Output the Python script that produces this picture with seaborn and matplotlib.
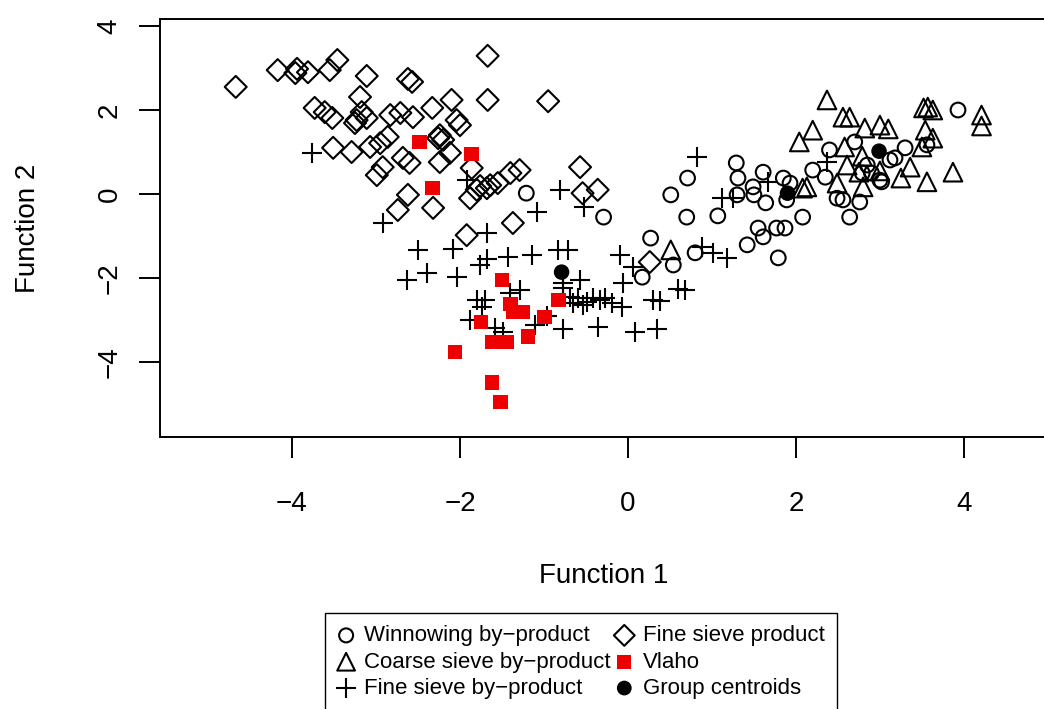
import pandas as pd
import matplotlib
matplotlib.use("Agg")
import matplotlib.pyplot as plt
import seaborn as sns

# discriminant scores (Function 1, Function 2)
winnow_x = [-1.21, -0.29, 0.51, 0.71, 0.70, 1.07, 1.29, 1.31, 1.30, 0.27, 0.54, 0.80,
            0.17, 1.42, 1.49, 1.50, 1.61, 1.64, 1.85, 1.93, 1.89, 1.55, 1.61, 1.77,
            1.87, 1.79, 2.08, 2.20, 2.35, 2.40, 2.49, 2.56, 2.76, 2.64, 2.70, 2.79,
            3.00, 3.12, 3.30, 3.93, 3.18, 2.85, 3.56, 2.90, 3.02]
winnow_y = [0.02, -0.55, -0.02, 0.38, -0.55, -0.52, 0.74, 0.38, -0.02, -1.05, -1.69, -1.40,
            -1.98, -1.21, 0.17, -0.02, 0.52, -0.21, 0.38, 0.26, -0.14, -0.81, -1.02, -0.81,
            -0.81, -1.52, -0.55, 0.57, 0.40, 1.05, -0.10, -0.14, -0.19, -0.55, 1.24, 0.50,
            0.33, 0.81, 1.10, 2.00, 0.86, 0.69, 1.17, 0.50, 0.29]

coarse_x = [2.37, 2.56, 2.64, 2.82, 3.00, 3.10, 2.20, 2.04, 2.08, 2.49, 2.58, 2.79,
            2.61, 2.75, 2.80, 3.00, 3.36, 3.25, 3.56, 3.87, 3.52, 3.57, 3.63, 3.54,
            3.63, 3.50, 4.21, 4.21, 0.51, 2.13]
coarse_y = [2.24, 1.83, 1.83, 1.57, 1.64, 1.55, 1.52, 1.24, 0.14, 0.26, 1.12, 0.90,
            0.69, 0.52, 0.17, 0.55, 0.64, 0.38, 0.29, 0.52, 2.05, 2.07, 2.00, 1.52,
            1.33, 1.12, 1.88, 1.62, -1.33, 0.17]

fine_bp_x = [-3.76, -2.92, -2.50, -2.08, -2.63, -2.39, -2.04, -1.76, -1.68, -1.43, -1.14, -0.83,
             -0.71, -0.10, 0.06, -1.80, -1.70, -1.74, -1.88, -1.58, -1.49, -1.29, -1.40, -1.11,
             -0.96, -0.77, -0.36, 0.08, 0.35, -0.07, 0.30, 0.38, 0.60, -1.08, -0.52, -1.68,
             -1.92, -0.81, 0.82, 1.25, 0.68, 1.18, -0.06, 1.67, 2.37, 1.12, 0.88, 1.01,
             -0.77, -0.69, -0.60, -0.49, -0.42, -0.33, -0.27, -0.19, -0.65, -0.54, -0.77, -0.57]
fine_bp_y = [0.98, -0.69, -1.33, -1.31, -2.05, -1.88, -1.98, -1.69, -1.55, -1.50, -1.45, -1.33,
             -1.33, -1.45, -1.74, -2.52, -2.52, -2.69, -3.00, -3.19, -3.29, -2.29, -2.36, -3.12,
             -2.90, -3.21, -3.17, -3.29, -3.21, -2.69, -2.52, -2.55, -2.26, -0.43, -0.31, -0.93,
             0.33, 0.10, 0.88, -0.10, -2.29, -1.52, -2.12, 0.29, 0.76, -0.10, -1.26, -1.40,
             -2.24, -2.45, -2.48, -2.57, -2.48, -2.52, -2.48, -2.60, -2.60, -2.64, -2.12, -2.05]

fine_p_x = [-4.67, -4.17, -3.96, -3.94, -3.81, -3.55, -3.46, -3.11, -2.62, -2.57, -3.73, -3.61,
            -3.52, -3.19, -3.23, -3.17, -3.11, -3.25, -2.83, -2.71, -2.56, -2.33, -2.10, -3.51,
            -3.29, -3.07, -2.95, -2.86, -2.99, -2.92, -2.68, -2.60, -2.26, -2.20, -2.24, -2.12,
            -2.62, -2.74, -2.32, -2.04, -1.67, -1.67, -2.00, -1.86, -1.88, -1.76, -1.64, -1.92,
            -1.80, -1.68, -1.55, -1.40, -1.29, -1.37, -0.57, -0.54, -0.36, 0.26, -0.95, -2.24]
fine_p_y = [2.55, 2.95, 2.88, 2.98, 2.90, 2.95, 3.19, 2.81, 2.74, 2.67, 2.05, 1.95,
            1.81, 2.31, 1.76, 1.95, 1.81, 1.69, 1.88, 1.93, 1.83, 2.05, 2.24, 1.10,
            1.00, 1.12, 1.21, 1.36, 0.45, 0.64, 0.86, 0.74, 1.33, 1.29, 0.76, 0.98,
            -0.02, -0.38, -0.33, 1.76, 3.29, 2.24, 1.64, 0.62, -0.10, 0.19, 0.21, -0.98,
            0.10, 0.14, 0.26, 0.50, 0.57, -0.69, 0.64, 0.02, 0.10, -1.62, 2.21, 1.40]

vlaho_x = [-2.48, -1.86, -2.33, -1.50, -0.83, -1.40, -1.36, -1.25, -1.75, -0.99, -1.19, -1.61,
           -1.44, -2.06, -1.62, -1.52]
vlaho_y = [1.24, 0.95, 0.14, -2.05, -2.52, -2.62, -2.81, -2.81, -3.05, -2.93, -3.40, -3.52,
           -3.52, -3.76, -4.48, -4.95]

centroid_x = [-0.79, 1.90, 2.99]
centroid_y = [-1.86, 0.02, 1.02]

groups = [
    ("Winnowing by−product", winnow_x, winnow_y),
    ("Coarse sieve by−product", coarse_x, coarse_y),
    ("Fine sieve by−product", fine_bp_x, fine_bp_y),
    ("Fine sieve product", fine_p_x, fine_p_y),
    ("Vlaho", vlaho_x, vlaho_y),
    ("Group centroids", centroid_x, centroid_y),
]

df = pd.concat(
    [pd.DataFrame({"f1": xs, "f2": ys, "group": name}) for name, xs, ys in groups],
    ignore_index=True,
)

styles = {
    "Winnowing by−product": dict(marker="o", s=112, facecolors="none", edgecolor="black", linewidth=1.5),
    "Coarse sieve by−product": dict(marker="^", s=180, facecolors="none", edgecolor="black", linewidth=1.5),
    "Fine sieve by−product": dict(marker="+", s=210, color="black", linewidth=1.5),
    "Fine sieve product": dict(marker="D", s=125, facecolors="none", edgecolor="black", linewidth=1.5),
    "Vlaho": dict(marker="s", s=112, color="#ee0000", edgecolor="none", linewidth=0),
    "Group centroids": dict(marker="o", s=125, color="black", edgecolor="none", linewidth=0),
}

sns.set_theme(style="ticks")
plt.rcParams["font.family"] = ["Liberation Sans", "DejaVu Sans"]
plt.rcParams["text.color"] = "black"
plt.rcParams["axes.labelcolor"] = "black"
plt.rcParams["xtick.color"] = "black"
plt.rcParams["ytick.color"] = "black"

fig = plt.figure(figsize=(10.44, 7.09), dpi=100)
# right edge of the box sits just past the picture, as in the cropped original
ax = fig.add_axes([0.1533, 0.3836, 0.8496, 0.5896])

for name, _, _ in groups:
    sns.scatterplot(data=df[df["group"] == name], x="f1", y="f2", ax=ax,
                    label=name, **styles[name])

ax.set_xlim(-5.571, 4.99)
ax.set_ylim(-5.786, 4.167)
ax.set_xticks([-4, -2, 0, 2, 4])
ax.set_yticks([-4, -2, 0, 2, 4])
for lab in ax.get_yticklabels():
    lab.set_rotation(90)
    lab.set_va("center")
ax.tick_params(direction="out", length=15, width=1.4, labelsize=20, color="black")
ax.tick_params(axis="x", pad=24)
ax.tick_params(axis="y", pad=12)
for sp in ax.spines.values():
    sp.set_visible(True)
    sp.set_linewidth(1.4)
    sp.set_color("black")

ax.set_xlabel("Function 1", fontsize=20, labelpad=33)
ax.set_ylabel("Function 2", fontsize=20, labelpad=40)

handles, labels = ax.get_legend_handles_labels()
ax.legend(handles, labels, ncol=2, loc="upper left",
          bbox_to_anchor=(325 / 1044, (709 - 613) / 709), bbox_transform=fig.transFigure,
          borderaxespad=0, fontsize=16, markerscale=0.95, frameon=True, fancybox=False,
          edgecolor="black", framealpha=1, handlelength=0.8, handletextpad=0.42,
          columnspacing=0.2, labelspacing=0.24, borderpad=0.55)
ax.get_legend().get_frame().set_linewidth(1.0)

fig.savefig("out.png", dpi=100)
